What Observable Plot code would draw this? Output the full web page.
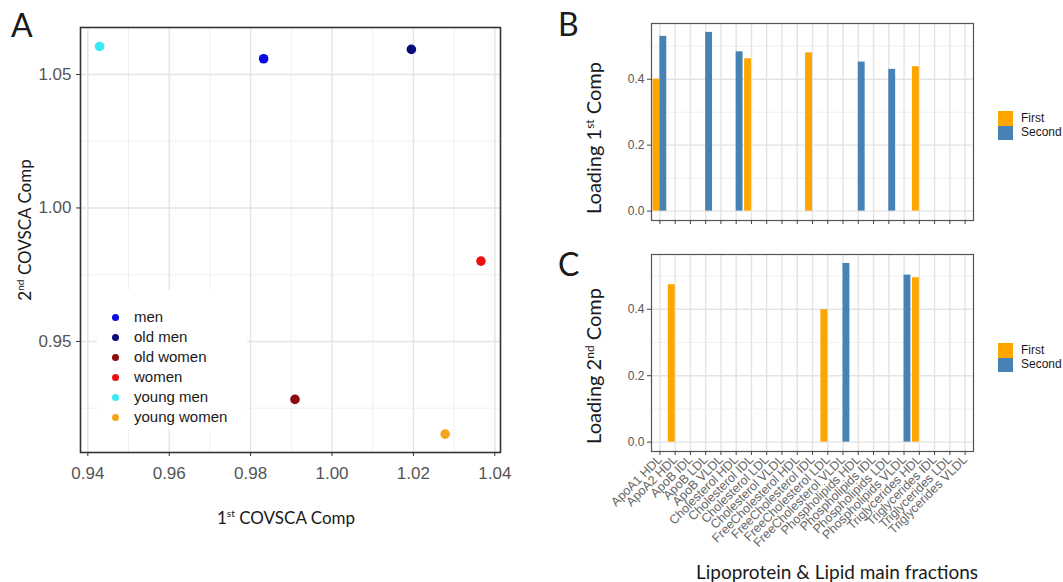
<!DOCTYPE html>
<html><head><meta charset="utf-8">
<script src="https://cdn.jsdelivr.net/npm/d3@7"></script>
<script src="https://cdn.jsdelivr.net/npm/@observablehq/plot@0.6"></script>
<style>
body{margin:0;background:#fff}
#root{position:relative;width:1063px;height:582px;overflow:hidden;font-family:Lato,"Open Sans",sans-serif;color:#1a1a1a;background:#fff}
.abs{position:absolute}
.rot{position:absolute;white-space:nowrap;transform:translate(-50%,-50%) rotate(-90deg);line-height:1}
.ctr{position:absolute;white-space:nowrap;transform:translate(-50%,-50%);line-height:1}
.letter{position:absolute;font-size:32px;line-height:1}
sup{font-size:0.6em;vertical-align:0.6em;line-height:0}
.leg{position:absolute;font-family:"Liberation Sans",Arial,sans-serif}
</style></head><body><div id="root"></div>
<script>
// ---- Panel A data
const groups = ["men","old men","old women","women","young men","young women"];
const groupColors = ["#0a0ae6","#0a0a78","#8b0a0a","#e81010","#3aeaf2","#f5a31a"];
const comp1 = [0.9832,1.0195,0.9909,1.0366,0.9429,1.0278];
const comp2 = [1.0559,1.0594,0.9283,0.9801,1.0605,0.9153];
const aTicksX = [0.94,0.96,0.98,1.00,1.02,1.04];
const aMinorX = [0.95,0.97,0.99,1.01,1.03];
const aTicksY = [0.95,1.00,1.05];
const aMinorY = [0.925,0.975,1.025];

// ---- Panels B, C data
const fractions = ["ApoA1 HDL","ApoA2 HDL","ApoB IDL","ApoB LDL","ApoB VLDL","Cholesterol HDL","Cholesterol IDL","Cholesterol LDL","Cholesterol VLDL","FreeCholesterol HDL","FreeCholesterol IDL","FreeCholesterol LDL","FreeCholesterol VLDL","Phospholipids HDL","Phospholipids IDL","Phospholipids LDL","Phospholipids VLDL","Triglycerides HDL","Triglycerides IDL","Triglycerides LDL","Triglycerides VLDL"];
const series = ["First","Second"];
const seriesColors = ["#FFA500","#4682B4"];
const loading1First  = [0.40,null,null,null,null,null,0.462,null,null,null,0.48,null,null,null,null,null,null,0.438,null,null,null];
const loading1Second = [0.53,null,null,0.542,null,0.483,null,null,null,null,null,null,null,0.452,null,0.43,null,null,null,null,null];
const loading2First  = [null,0.474,null,null,null,null,null,null,null,null,null,0.399,null,null,null,null,null,0.495,null,null,null];
const loading2Second = [null,null,null,null,null,null,null,null,null,null,null,null,0.538,null,null,null,0.503,null,null,null,null];
const loadTicks = [0,0.2,0.4];
const loadMinor = [0.1,0.3,0.5];

const root = document.getElementById("root");
function place(node, left, top){ const d=document.createElement("div"); d.className="abs"; d.style.left=left+"px"; d.style.top=top+"px"; d.appendChild(node); root.appendChild(d); return d; }
function html(str){ root.insertAdjacentHTML("beforeend", str); }

const gridMajor = {stroke:"#e4e4e4", strokeWidth:1.4};
const gridMinor = {stroke:"#eeeeee", strokeWidth:0.9};

// ---- Panel A
const pts = groups.map((g,i)=>({group:g, x:comp1[i], y:comp2[i]}));
const plotA = Plot.plot({
  width: 520, height: 490,
  marginLeft: 80, marginRight: 20, marginTop: 27, marginBottom: 38,
  x: {domain:[0.9382,1.0414]},
  y: {domain:[0.9084,1.0676]},
  color: {domain: groups, range: groupColors},
  style: {fontFamily:"'Liberation Sans',Arial,sans-serif", fontSize:"17px", color:"#555", background:"transparent", overflow:"visible"},
  marks: [
    Plot.ruleX(aMinorX, gridMinor),
    Plot.ruleY(aMinorY, gridMinor),
    Plot.ruleX(aTicksX, gridMajor),
    Plot.ruleY(aTicksY, gridMajor),
    Plot.frame({stroke:"#333", strokeWidth:1.6}),
    Plot.axisX(aTicksX, {tickSize:4, tickPadding:10, tickFormat: d3.format(".2f"), label:null, fontSize:17, stroke:"#333", fill:"#555"}),
    Plot.axisY(aTicksY, {tickSize:4, tickPadding:5, tickFormat: d3.format(".2f"), label:null, fontSize:17, stroke:"#333", fill:"#555"}),
    Plot.dot(pts, {x:"x", y:"y", fill:"group", r:4.8})
  ]
});
place(plotA, 0, 0);

// legend A (white box over grid)
let legA = `<div class="leg" style="left:97px;top:290px;width:150px;height:140px;background:#fff"></div>`;
groups.forEach((g,i)=>{
  const y = 317 + i*20;
  legA += `<div class="leg" style="left:111.5px;top:${y-3.5}px;width:7px;height:7px;border-radius:50%;background:${groupColors[i]}"></div>`;
  legA += `<div class="leg" style="left:134px;top:${y-9}px;font-size:15px;line-height:18px;color:#1a1a1a">${g}</div>`;
});
html(legA);

// ---- bars helper
function bars(firstVals, secondVals){
  const out=[];
  fractions.forEach((f,i)=>{
    if(firstVals[i]!=null) out.push({i, series:"First", v:firstVals[i]});
    if(secondVals[i]!=null) out.push({i, series:"Second", v:secondVals[i]});
  });
  return out;
}
const idx = fractions.map((_,i)=>i);
function barPlot(data, yMax, opts){
  return Plot.plot({
    width: 380, height: opts.height,
    marginLeft: 51, marginRight: 7, marginTop: opts.marginTop, marginBottom: opts.marginBottom,
    x: {domain:[-0.55,20.55]},
    y: {domain:[-0.027*yMax/0.54, yMax]},
    color: {domain: series, range: seriesColors},
    style: {fontFamily:"'Liberation Sans',Arial,sans-serif", fontSize:"12px", color:"#555", background:"transparent", overflow:"visible"},
    marks: [
      Plot.ruleY(loadMinor, gridMinor),
      Plot.ruleX(idx, gridMajor),
      Plot.ruleY(loadTicks, gridMajor),
      Plot.rectY(data, {x1: d=>d.i + (d.series==="First" ? -0.45 : 0), x2: d=>d.i + (d.series==="First" ? 0 : 0.45), y1: 0, y2:"v", fill:"series"}),
      Plot.frame({stroke:"#555", strokeWidth:1.2}),
      Plot.axisY(loadTicks, {tickSize:4, tickPadding:3, tickFormat: d3.format(".1f"), label:null, fontSize:12, stroke:"#444", fill:"#555"}),
      opts.labels
        ? Plot.axisX(idx, {tickSize:4, tickPadding:2, tickRotate:-45, tickFormat: i=>fractions[i], label:null, fontSize:12.5, stroke:"#444", fill:"#666"})
        : Plot.axisX(idx, {tickSize:4, tickFormat: ()=>"", label:null, stroke:"#444"})
    ]
  });
}
const plotB = barPlot(bars(loading1First, loading1Second), 0.569, {height:232, marginTop:23, marginBottom:12, labels:false});
place(plotB, 600, 0);
const plotC = barPlot(bars(loading2First, loading2Second), 0.565, {height:330, marginTop:14, marginBottom:119, labels:true});
place(plotC, 600, 240);

// legends B/C
function legBC(top){
  let s="";
  series.forEach((name,i)=>{
    s += `<div class="leg" style="left:998px;top:${top+i*14.5}px;width:15px;height:14.5px;background:${seriesColors[i]}"></div>`;
    s += `<div class="leg" style="left:1021px;top:${top+i*14.5-0.5}px;font-size:12px;line-height:15px;color:#1a1a1a">${name}</div>`;
  });
  html(s);
}
legBC(111);
legBC(343);

// labels
html(`<div class="letter" style="left:11px;top:9px">A</div>`);
html(`<div class="letter" style="left:558px;top:8px">B</div>`);
html(`<div class="letter" style="left:558px;top:248px">C</div>`);
html(`<div class="rot" style="left:24px;top:230px;font-size:17px">2<sup>nd</sup> COVSCA Comp</div>`);
html(`<div class="ctr" style="left:286px;top:517px;font-size:17px">1<sup>st</sup> COVSCA Comp</div>`);
html(`<div class="rot" style="left:593px;top:138px;font-size:20px">Loading 1<sup>st</sup> Comp</div>`);
html(`<div class="rot" style="left:593px;top:366px;font-size:20px">Loading 2<sup>nd</sup> Comp</div>`);
html(`<div class="ctr" style="left:837px;top:571px;font-size:19px">Lipoprotein &amp; Lipid main fractions</div>`);
</script></body></html>
